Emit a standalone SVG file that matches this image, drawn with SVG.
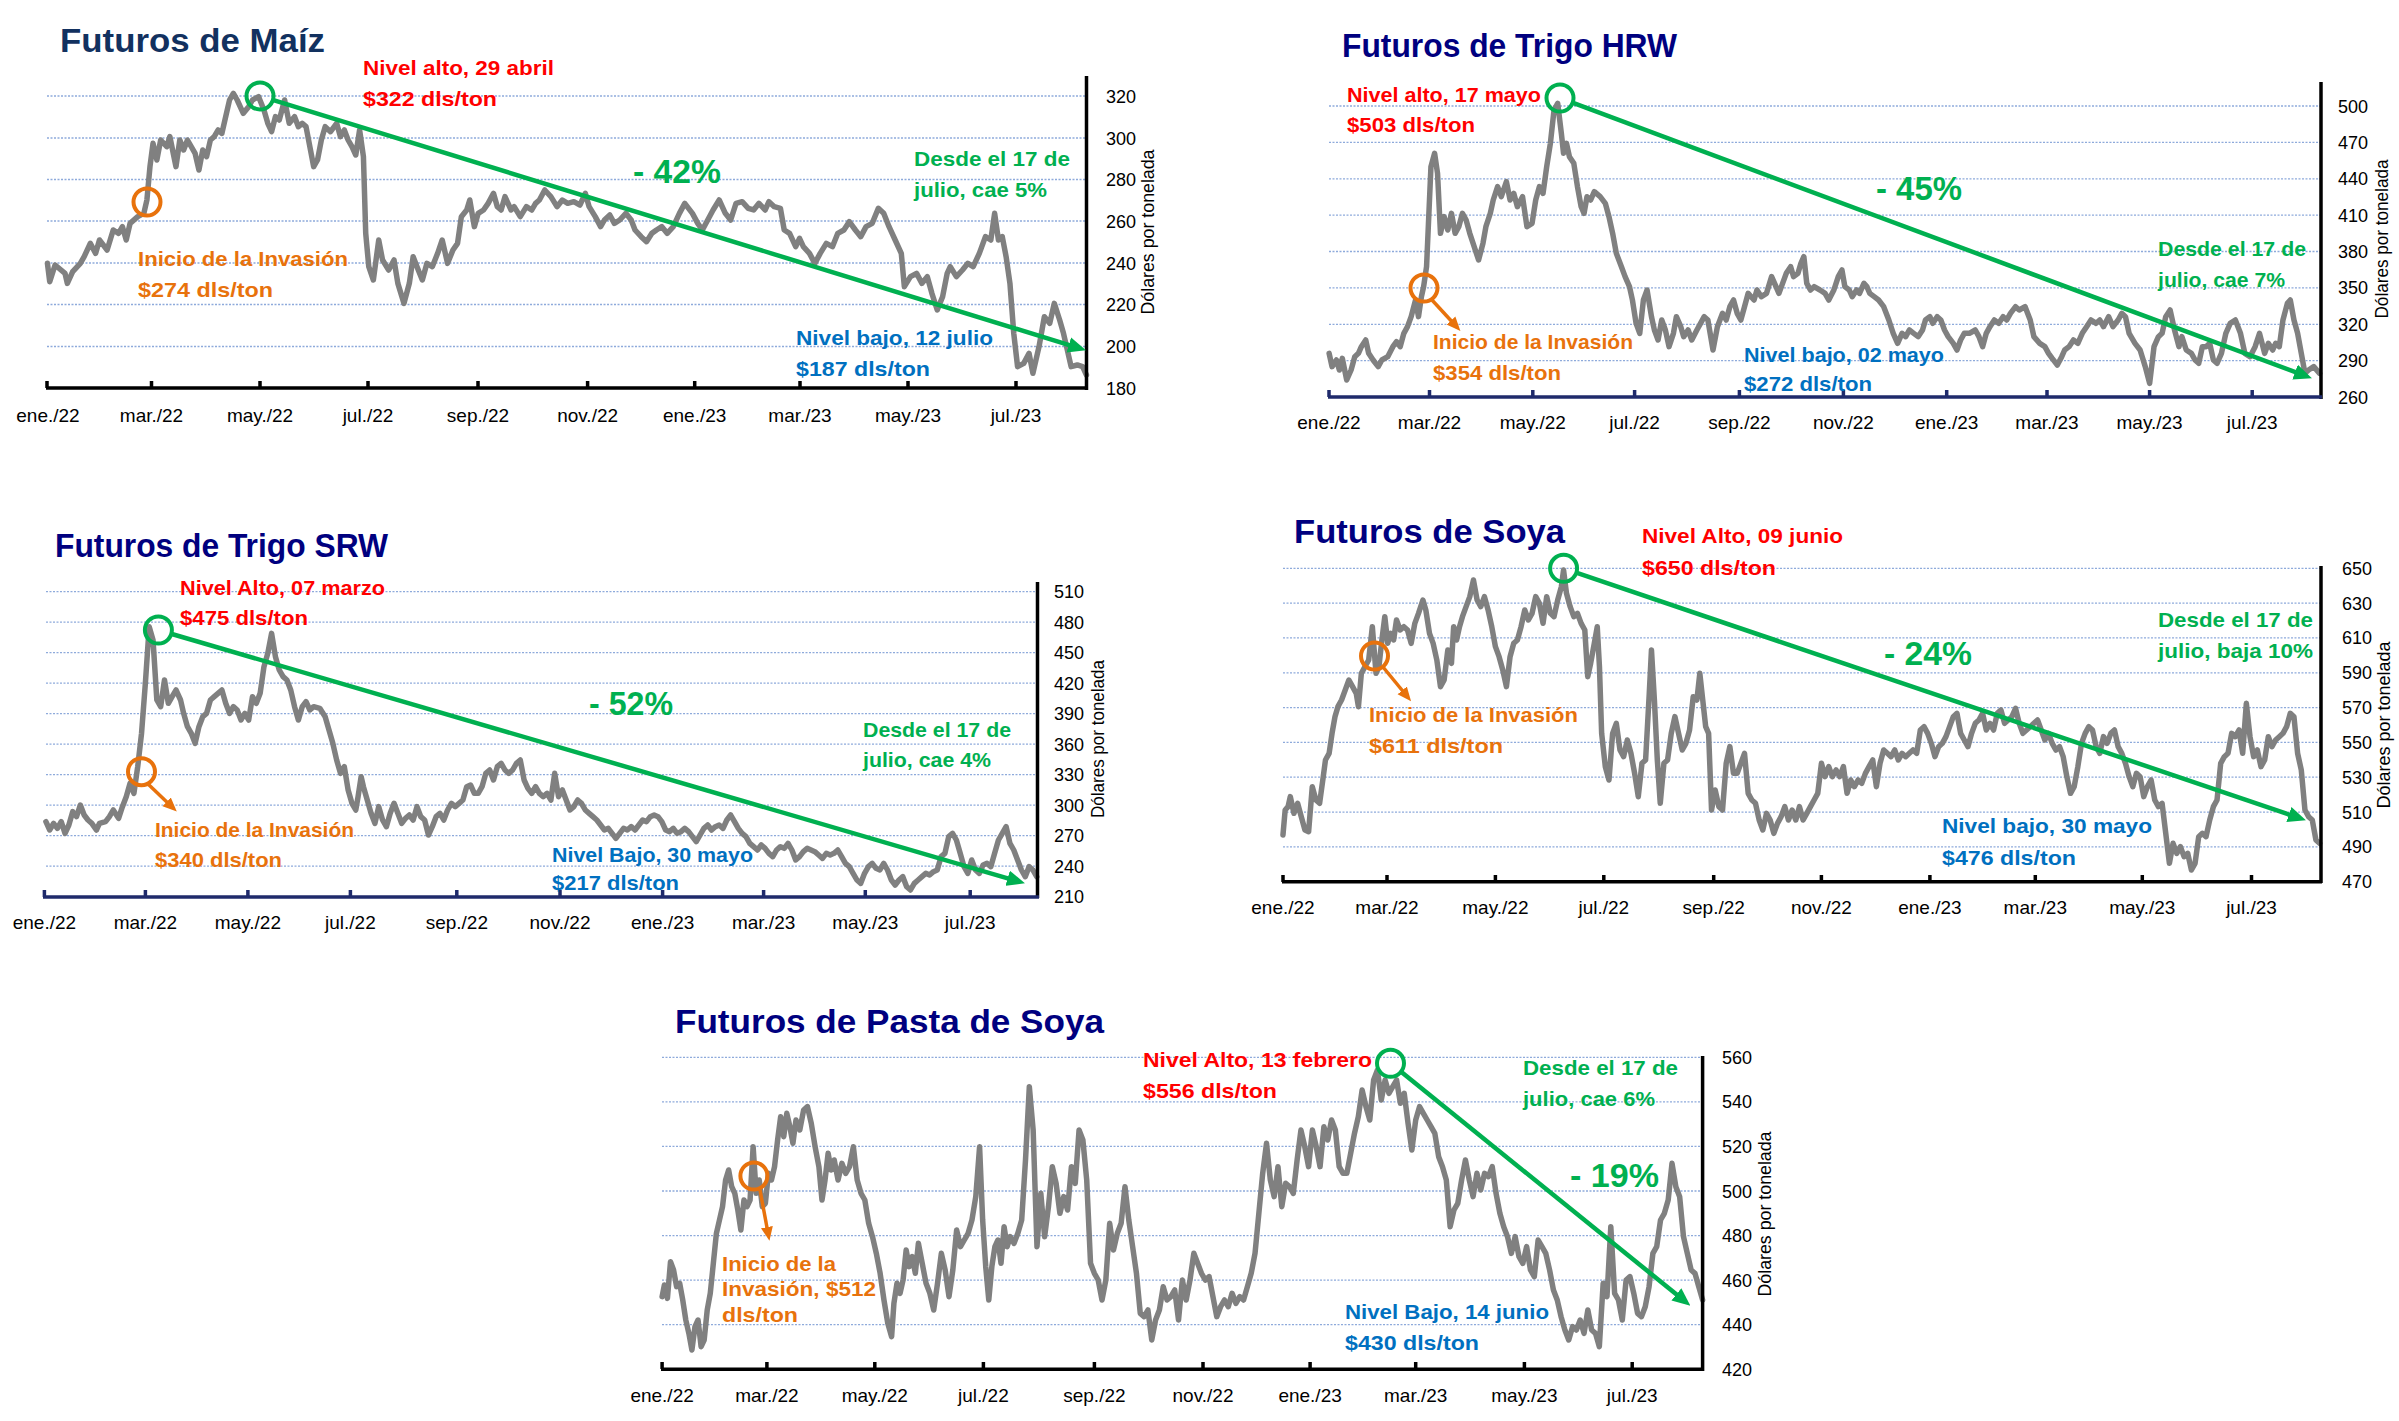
<svg xmlns="http://www.w3.org/2000/svg" width="2399" height="1421" viewBox="0 0 2399 1421">
<style>
text{font-family:"Liberation Sans",Arial,sans-serif}
.ttl{font-weight:bold;font-size:33px}
.t1{fill:#12315f}
.t2{fill:#00007f}
.ann{font-weight:bold;font-size:21px}
.red{fill:#ff0000}
.blu{fill:#0070c0}
.org{fill:#e8720c}
.grn{fill:#00b050}
.pct{font-weight:bold;font-size:33px;fill:#00b050}
.mo{font-size:19px;fill:#000;text-anchor:middle}
.yl{font-size:18px;fill:#000}
.yt{font-size:18px;fill:#000;text-anchor:middle}
.grid{stroke:#8eaadb;stroke-width:1.3;stroke-dasharray:2 1.5;fill:none}
.ser{fill:none;stroke:#808080;stroke-width:5.5;stroke-linejoin:round;stroke-linecap:round;vector-effect:non-scaling-stroke}
.ax{stroke:#000;stroke-width:3.5;fill:none}
.axn{stroke:#1f2a6b;stroke-width:3.5;fill:none}
.cg{fill:none;stroke:#00b050;stroke-width:4}
.co{fill:none;stroke:#e8720c;stroke-width:4}
.ag{stroke:#00b050;stroke-width:4.5;fill:none;marker-end:url(#hg)}
.ao{stroke:#e8720c;stroke-width:3.5;fill:none;marker-end:url(#ho)}
</style>
<defs>
<marker id="hg" markerUnits="userSpaceOnUse" markerWidth="18" markerHeight="16" refX="8" refY="7" orient="auto" viewBox="0 0 16 14"><path d="M0,0 L16,7 L0,14 z" fill="#00b050"/></marker>
<marker id="ho" markerUnits="userSpaceOnUse" markerWidth="14" markerHeight="13" refX="6" refY="6" orient="auto" viewBox="0 0 14 12"><path d="M0,0 L14,6 L0,12 z" fill="#e8720c"/></marker>
</defs>
<rect width="2399" height="1421" fill="#fff"/>

<!-- Chart 1: Maiz -->
<g id="chart-maiz">
<text class="ttl t1" x="60" y="52" textLength="265" lengthAdjust="spacingAndGlyphs">Futuros de Maíz</text>
<g class="grid">
<line x1="47" y1="96" x2="1086" y2="96"/><line x1="47" y1="138" x2="1086" y2="138"/><line x1="47" y1="179.5" x2="1086" y2="179.5"/><line x1="47" y1="221" x2="1086" y2="221"/><line x1="47" y1="263" x2="1086" y2="263"/><line x1="47" y1="304.5" x2="1086" y2="304.5"/><line x1="47" y1="346.5" x2="1086" y2="346.5"/>
</g>
<polyline class="ser" transform="matrix(0.7651 0 0 0.33333 0 0)" points="62,790 65,845 72,795 85,820 88,850 95,815 105,790 110,770 118,730 125,760 130,720 140,750 148,690 155,700 160,680 165,720 170,670 180,650 188,640 192,600 196,500 200,430 205,480 210,420 218,440 222,410 230,500 235,420 240,450 245,420 255,460 260,510 265,450 270,470 275,420 280,410 285,390 290,400 295,350 300,300 305,280 310,300 318,340 325,320 330,300 338,290 345,330 350,370 355,395 360,350 365,360 372,300 378,370 385,350 390,380 395,370 400,380 405,440 410,500 415,480 420,420 425,380 432,395 440,370 445,410 450,390 455,420 460,440 465,465 470,390 475,470 478,700 482,800 488,840 495,720 500,780 508,810 515,780 520,850 528,910 535,850 540,770 545,800 552,840 558,790 565,800 572,760 578,720 585,790 592,750 598,730 603,650 610,630 614,600 620,680 625,640 632,630 638,610 645,580 650,620 655,630 660,590 668,630 672,620 680,650 688,620 695,630 700,610 705,600 712,570 720,590 728,620 735,600 742,610 750,605 758,615 765,580 770,620 778,650 785,680 790,660 797,645 803,670 810,660 818,640 825,660 830,690 838,710 845,725 852,700 858,690 865,680 872,700 880,680 888,640 895,610 905,640 912,670 918,690 925,660 932,630 940,600 948,640 955,660 962,610 970,605 978,625 985,630 992,610 1000,630 1005,605 1012,620 1020,625 1025,690 1032,700 1040,740 1045,715 1050,740 1058,760 1065,790 1072,760 1080,730 1088,740 1095,700 1103,690 1110,665 1118,690 1125,710 1132,680 1140,670 1148,625 1155,640 1162,680 1170,720 1178,760 1182,860 1190,830 1198,820 1205,850 1212,830 1218,880 1225,930 1232,890 1238,820 1242,800 1250,830 1258,810 1265,790 1272,800 1280,760 1288,710 1295,720 1300,640 1305,720 1310,710 1315,770 1320,850 1325,1000 1330,1100 1338,1090 1345,1060 1350,1120 1358,1040 1365,950 1372,970 1378,910 1385,960 1390,1000 1395,1050 1400,1100 1408,1095 1415,1100 1420,1125"/>
<line class="ax" x1="1086.5" y1="76" x2="1086.5" y2="390"/>
<line class="ax" x1="46" y1="388" x2="1088" y2="388"/>
<path class="ax" d="M47,381V388M151.5,381V388M260,381V388M368,381V388M478,381V388M587.6,381V388M694.7,381V388M800,381V388M908,381V388M1016,381V388"/>
<g>
<text class="yl" x="1106" y="102.5">320</text><text class="yl" x="1106" y="144.5">300</text><text class="yl" x="1106" y="186">280</text><text class="yl" x="1106" y="227.5">260</text><text class="yl" x="1106" y="269.5">240</text><text class="yl" x="1106" y="311">220</text><text class="yl" x="1106" y="353">200</text><text class="yl" x="1106" y="394.5">180</text>
</g>
<g>
<text class="mo" x="48" y="422">ene./22</text><text class="mo" x="151.5" y="422">mar./22</text><text class="mo" x="260" y="422">may./22</text><text class="mo" x="368" y="422">jul./22</text><text class="mo" x="478" y="422">sep./22</text><text class="mo" x="587.6" y="422">nov./22</text><text class="mo" x="694.7" y="422">ene./23</text><text class="mo" x="800" y="422">mar./23</text><text class="mo" x="908" y="422">may./23</text><text class="mo" x="1016" y="422">jul./23</text>
</g>
<text class="yt" transform="translate(1154,232) rotate(-90)" textLength="165" lengthAdjust="spacingAndGlyphs">Dólares por tonelada</text>
<text class="ann red" x="363" y="75" textLength="191" lengthAdjust="spacingAndGlyphs">Nivel alto, 29 abril</text>
<text class="ann red" x="363" y="106" textLength="134" lengthAdjust="spacingAndGlyphs">$322 dls/ton</text>
<circle class="cg" cx="260" cy="96" r="13.5"/>
<text class="pct" x="633" y="183" textLength="88" lengthAdjust="spacingAndGlyphs">- 42%</text>
<text class="ann grn" x="914" y="166" textLength="156" lengthAdjust="spacingAndGlyphs">Desde el 17 de</text>
<text class="ann grn" x="914" y="197" textLength="133" lengthAdjust="spacingAndGlyphs">julio, cae 5%</text>
<circle class="co" cx="147" cy="202" r="13.5"/>
<text class="ann org" x="138" y="266" textLength="210" lengthAdjust="spacingAndGlyphs">Inicio de la Invasión</text>
<text class="ann org" x="138" y="297" textLength="135" lengthAdjust="spacingAndGlyphs">$274 dls/ton</text>
<text class="ann blu" x="796" y="345" textLength="197" lengthAdjust="spacingAndGlyphs">Nivel bajo, 12 julio</text>
<text class="ann blu" x="796" y="376" textLength="134" lengthAdjust="spacingAndGlyphs">$187 dls/ton</text>
</g>

<!-- Chart 2: Trigo HRW -->
<g id="chart-trigo-hrw">
<text class="ttl t2" x="1342" y="57" textLength="335" lengthAdjust="spacingAndGlyphs">Futuros de Trigo HRW</text>
<g class="grid">
<line x1="1329" y1="106" x2="2321" y2="106"/><line x1="1329" y1="142.4" x2="2321" y2="142.4"/><line x1="1329" y1="178.8" x2="2321" y2="178.8"/><line x1="1329" y1="215.1" x2="2321" y2="215.1"/><line x1="1329" y1="251.5" x2="2321" y2="251.5"/><line x1="1329" y1="287.9" x2="2321" y2="287.9"/><line x1="1329" y1="324.3" x2="2321" y2="324.3"/><line x1="1329" y1="360.6" x2="2321" y2="360.6"/>
</g>
<polyline class="ser" transform="matrix(0.7326 0 0 0.33333 1250 0)" points="108,1060 112,1100 118,1080 122,1110 126,1075 132,1140 138,1110 143,1070 148,1060 152,1040 158,1020 162,1060 168,1080 175,1100 180,1080 188,1070 195,1040 200,1025 205,1040 210,1000 215,980 220,950 226,900 230,950 234,890 237,860 241,800 244,650 247,500 252,460 256,520 260,700 265,650 270,690 275,640 280,700 285,680 290,640 295,660 300,700 306,740 312,780 318,730 322,680 328,640 332,600 338,560 343,590 350,545 355,600 360,580 365,620 372,590 378,680 385,670 390,600 395,560 400,580 405,500 410,430 415,330 420,310 425,400 428,460 432,430 436,470 442,490 447,560 452,620 456,640 460,590 465,600 470,575 478,590 485,610 490,650 495,700 500,760 507,800 512,830 518,860 522,900 527,970 532,1000 537,900 542,870 548,950 552,990 557,1020 562,960 567,990 572,1040 578,1000 582,950 588,980 592,1010 598,990 603,1020 610,990 615,970 620,950 625,960 632,1050 638,980 645,940 650,960 655,920 660,900 665,940 670,960 675,920 680,880 688,900 692,870 698,890 705,880 712,830 718,860 722,880 727,850 732,820 738,800 742,830 748,820 752,790 756,770 760,850 765,870 770,860 778,870 785,880 790,900 797,870 803,830 808,810 812,860 818,870 822,890 828,870 832,880 838,850 842,860 846,880 852,890 858,900 865,920 872,960 878,1000 884,1030 890,1000 895,1010 900,990 906,1000 912,1010 918,990 922,960 928,950 932,970 938,950 943,960 948,990 953,1010 960,1030 965,1050 970,1020 975,1000 982,1000 990,990 995,1010 1000,1040 1005,1000 1010,980 1016,960 1022,970 1028,950 1033,960 1038,940 1045,920 1050,930 1058,920 1065,960 1070,1010 1078,1030 1085,1040 1090,1060 1095,1075 1102,1095 1108,1070 1112,1050 1118,1040 1124,1020 1130,1030 1136,1000 1142,980 1148,960 1155,970 1160,960 1165,980 1172,950 1178,980 1185,960 1190,940 1195,950 1200,1000 1208,1030 1215,1050 1222,1100 1228,1150 1234,1040 1240,1010 1245,1000 1250,950 1256,930 1262,990 1268,1040 1272,1010 1278,1050 1285,1060 1290,1080 1295,1090 1300,1040 1305,1040 1310,1030 1315,1080 1320,1090 1326,1060 1332,1000 1338,970 1345,960 1352,1000 1358,1060 1365,1070 1372,1040 1378,1000 1385,1060 1390,1030 1396,1050 1400,1030 1405,1040 1410,960 1416,910 1420,900 1425,960 1430,1000 1435,1060 1440,1120 1445,1110 1452,1100 1460,1120"/>
<line class="ax" x1="2321" y1="82" x2="2321" y2="399"/>
<line class="axn" x1="1328" y1="397" x2="2322" y2="397"/>
<path class="axn" d="M1329,390V397M1429.5,390V397M1532.8,390V397M1634.6,390V397M1739.4,390V397M1843.4,390V397M1946.7,390V397M2047,390V397M2149.6,390V397M2252.2,390V397"/>
<g>
<text class="yl" x="2338" y="112.5">500</text><text class="yl" x="2338" y="149">470</text><text class="yl" x="2338" y="185.3">440</text><text class="yl" x="2338" y="221.6">410</text><text class="yl" x="2338" y="258">380</text><text class="yl" x="2338" y="294.4">350</text><text class="yl" x="2338" y="330.8">320</text><text class="yl" x="2338" y="367.1">290</text><text class="yl" x="2338" y="403.5">260</text>
</g>
<g>
<text class="mo" x="1329" y="429">ene./22</text><text class="mo" x="1429.5" y="429">mar./22</text><text class="mo" x="1532.8" y="429">may./22</text><text class="mo" x="1634.6" y="429">jul./22</text><text class="mo" x="1739.4" y="429">sep./22</text><text class="mo" x="1843.4" y="429">nov./22</text><text class="mo" x="1946.7" y="429">ene./23</text><text class="mo" x="2047" y="429">mar./23</text><text class="mo" x="2149.6" y="429">may./23</text><text class="mo" x="2252.2" y="429">jul./23</text>
</g>
<text class="yt" transform="translate(2388,239) rotate(-90)" textLength="159" lengthAdjust="spacingAndGlyphs">Dólares por tonelada</text>
<text class="ann red" x="1347" y="102" textLength="194" lengthAdjust="spacingAndGlyphs">Nivel alto, 17 mayo</text>
<text class="ann red" x="1347" y="132" textLength="128" lengthAdjust="spacingAndGlyphs">$503 dls/ton</text>
<circle class="cg" cx="1560" cy="98" r="13.5"/>
<text class="pct" x="1876" y="200" textLength="86" lengthAdjust="spacingAndGlyphs">- 45%</text>
<text class="ann grn" x="2158" y="256" textLength="148" lengthAdjust="spacingAndGlyphs">Desde el 17 de</text>
<text class="ann grn" x="2158" y="287" textLength="127" lengthAdjust="spacingAndGlyphs">julio, cae 7%</text>
<circle class="co" cx="1424" cy="288" r="13.5"/>
<text class="ann org" x="1433" y="349" textLength="200" lengthAdjust="spacingAndGlyphs">Inicio de la Invasión</text>
<text class="ann org" x="1433" y="380" textLength="128" lengthAdjust="spacingAndGlyphs">$354 dls/ton</text>
<text class="ann blu" x="1744" y="362" textLength="200" lengthAdjust="spacingAndGlyphs">Nivel bajo, 02 mayo</text>
<text class="ann blu" x="1744" y="391" textLength="128" lengthAdjust="spacingAndGlyphs">$272 dls/ton</text>
</g>

<!-- Chart 3: Trigo SRW -->
<g id="chart-trigo-srw">
<text class="ttl t2" x="55" y="557" textLength="333" lengthAdjust="spacingAndGlyphs">Futuros de Trigo SRW</text>
<g class="grid">
<line x1="46" y1="591.7" x2="1037" y2="591.7"/><line x1="46" y1="622.2" x2="1037" y2="622.2"/><line x1="46" y1="652.7" x2="1037" y2="652.7"/><line x1="46" y1="683.2" x2="1037" y2="683.2"/><line x1="46" y1="713.7" x2="1037" y2="713.7"/><line x1="46" y1="744.2" x2="1037" y2="744.2"/><line x1="46" y1="774.7" x2="1037" y2="774.7"/><line x1="46" y1="805.2" x2="1037" y2="805.2"/><line x1="46" y1="835.7" x2="1037" y2="835.7"/><line x1="46" y1="866.2" x2="1037" y2="866.2"/>
</g>
<polyline class="ser" transform="matrix(0.7651 0 0 0.33333 0 500)" points="60,965 65,990 70,970 75,985 80,965 85,1000 90,975 95,935 100,950 105,915 110,945 115,960 120,970 126,990 130,970 138,965 143,950 148,930 155,955 160,920 165,890 170,850 175,880 180,800 185,700 190,550 195,380 200,420 205,600 210,620 215,540 220,610 225,590 230,570 236,600 240,640 245,680 250,700 255,730 260,680 265,650 270,640 275,600 280,590 285,580 290,570 295,610 300,640 305,620 310,630 315,660 320,640 325,660 330,590 335,610 340,580 345,500 350,460 355,400 360,470 365,510 370,530 375,540 380,570 385,620 390,660 395,620 400,605 405,630 410,620 418,625 425,650 430,690 435,730 440,780 445,820 450,800 455,870 460,910 465,930 468,890 472,830 475,860 480,900 485,940 490,970 495,920 500,960 505,980 510,940 515,910 520,940 525,970 530,955 535,945 540,960 545,920 550,950 555,960 560,1005 565,980 570,950 575,940 580,960 585,930 590,910 595,920 600,910 605,900 610,860 615,855 620,880 625,880 630,860 635,820 640,810 645,840 650,800 655,790 660,810 665,820 670,810 675,790 680,780 685,840 690,865 695,880 700,860 705,880 710,890 715,880 720,900 725,820 730,890 735,870 740,900 745,930 750,920 755,900 760,910 765,930 770,940 775,950 780,960 785,975 790,990 795,985 800,1000 805,1015 810,1000 815,985 820,990 825,980 830,990 835,975 840,960 845,965 850,950 855,945 860,950 865,965 870,990 875,995 880,985 885,1000 890,995 895,985 900,995 905,1010 910,1025 915,1005 920,985 925,975 930,990 935,980 940,975 945,985 950,960 955,945 960,965 965,985 970,1000 975,1010 980,1030 985,1040 990,1050 995,1035 1000,1045 1005,1060 1010,1070 1015,1050 1020,1040 1025,1045 1030,1030 1035,1050 1040,1080 1045,1070 1050,1055 1055,1045 1060,1050 1065,1055 1070,1065 1075,1075 1080,1060 1085,1065 1090,1060 1095,1050 1100,1070 1105,1090 1110,1100 1115,1120 1120,1140 1125,1150 1130,1120 1135,1100 1140,1090 1145,1105 1150,1110 1155,1090 1160,1110 1165,1140 1170,1155 1175,1140 1180,1130 1185,1160 1190,1170 1195,1150 1200,1140 1205,1130 1210,1120 1215,1125 1220,1115 1225,1110 1230,1070 1235,1060 1240,1010 1245,1000 1250,1020 1255,1060 1260,1100 1265,1120 1270,1080 1275,1110 1280,1120 1285,1095 1290,1090 1295,1100 1300,1060 1305,1020 1310,1000 1315,980 1320,1030 1325,1050 1330,1080 1335,1110 1340,1130 1345,1100 1350,1110 1355,1130"/>
<line class="ax" x1="1037.5" y1="582" x2="1037.5" y2="898"/>
<line class="axn" x1="43" y1="897" x2="1039" y2="897"/>
<path class="axn" d="M44.4,890V897M145.4,890V897M247.9,890V897M350.4,890V897M456.8,890V897M560,890V897M662.6,890V897M763.6,890V897M865.3,890V897M970.2,890V897"/>
<g>
<text class="yl" x="1054" y="598.2">510</text><text class="yl" x="1054" y="628.7">480</text><text class="yl" x="1054" y="659.2">450</text><text class="yl" x="1054" y="689.7">420</text><text class="yl" x="1054" y="720.2">390</text><text class="yl" x="1054" y="750.7">360</text><text class="yl" x="1054" y="781.2">330</text><text class="yl" x="1054" y="811.7">300</text><text class="yl" x="1054" y="842.2">270</text><text class="yl" x="1054" y="872.7">240</text><text class="yl" x="1054" y="903.2">210</text>
</g>
<g>
<text class="mo" x="44.4" y="929">ene./22</text><text class="mo" x="145.4" y="929">mar./22</text><text class="mo" x="247.9" y="929">may./22</text><text class="mo" x="350.4" y="929">jul./22</text><text class="mo" x="456.8" y="929">sep./22</text><text class="mo" x="560" y="929">nov./22</text><text class="mo" x="662.6" y="929">ene./23</text><text class="mo" x="763.6" y="929">mar./23</text><text class="mo" x="865.3" y="929">may./23</text><text class="mo" x="970.2" y="929">jul./23</text>
</g>
<text class="yt" transform="translate(1104,739) rotate(-90)" textLength="158" lengthAdjust="spacingAndGlyphs">Dólares por tonelada</text>
<text class="ann red" x="180" y="595" textLength="205" lengthAdjust="spacingAndGlyphs">Nivel Alto, 07 marzo</text>
<text class="ann red" x="180" y="625" textLength="128" lengthAdjust="spacingAndGlyphs">$475 dls/ton</text>
<circle class="cg" cx="158.4" cy="630" r="13.5"/>
<text class="pct" x="589" y="715" textLength="84" lengthAdjust="spacingAndGlyphs">- 52%</text>
<text class="ann grn" x="863" y="737" textLength="148" lengthAdjust="spacingAndGlyphs">Desde el 17 de</text>
<text class="ann grn" x="863" y="767" textLength="128" lengthAdjust="spacingAndGlyphs">julio, cae 4%</text>
<circle class="co" cx="141.5" cy="771.7" r="13.5"/>
<text class="ann org" x="155" y="837" textLength="199" lengthAdjust="spacingAndGlyphs">Inicio de la Invasión</text>
<text class="ann org" x="155" y="867" textLength="127" lengthAdjust="spacingAndGlyphs">$340 dls/ton</text>
<text class="ann blu" x="552" y="862" textLength="201" lengthAdjust="spacingAndGlyphs">Nivel Bajo, 30 mayo</text>
<text class="ann blu" x="552" y="890" textLength="127" lengthAdjust="spacingAndGlyphs">$217 dls/ton</text>
</g>

<!-- Chart 4: Soya -->
<g id="chart-soya">
<text class="ttl t2" x="1294" y="543" textLength="271" lengthAdjust="spacingAndGlyphs">Futuros de Soya</text>
<g class="grid">
<line x1="1283" y1="568.3" x2="2321" y2="568.3"/><line x1="1283" y1="603.1" x2="2321" y2="603.1"/><line x1="1283" y1="637.9" x2="2321" y2="637.9"/><line x1="1283" y1="672.8" x2="2321" y2="672.8"/><line x1="1283" y1="707.6" x2="2321" y2="707.6"/><line x1="1283" y1="742.4" x2="2321" y2="742.4"/><line x1="1283" y1="777.2" x2="2321" y2="777.2"/><line x1="1283" y1="812.1" x2="2321" y2="812.1"/><line x1="1283" y1="846.9" x2="2321" y2="846.9"/>
</g>
<polyline class="ser" transform="matrix(0.7326 0 0 0.33333 1250 500)" points="45,1005 48,930 52,920 55,890 60,940 65,910 70,950 75,990 80,995 85,860 90,900 95,910 100,830 103,780 108,760 112,700 116,650 120,620 125,600 130,570 135,540 140,560 145,580 148,620 152,520 157,500 162,480 167,380 172,520 176,500 180,420 184,350 188,430 192,400 196,420 200,360 205,390 210,380 215,390 220,430 225,370 230,340 236,300 240,330 245,400 250,430 255,480 260,560 265,540 270,450 275,490 278,380 282,420 286,380 290,350 295,320 300,290 305,240 310,300 315,320 320,290 325,330 330,380 335,440 340,470 345,510 350,560 355,470 360,430 365,420 370,380 375,330 380,360 385,340 390,290 395,310 400,370 405,290 410,340 415,350 420,300 425,260 428,210 432,280 437,320 442,350 447,340 452,370 457,390 461,530 465,490 470,430 474,380 477,500 480,700 485,800 490,840 495,700 500,670 505,750 510,770 515,720 520,760 525,820 530,890 535,790 540,780 545,580 548,450 552,600 556,780 560,910 565,790 570,780 575,700 580,650 585,700 590,750 595,730 600,690 605,590 610,600 614,520 618,600 622,680 626,700 630,930 635,870 640,920 645,930 650,790 655,740 660,820 665,820 670,790 675,760 680,880 685,900 690,910 695,960 700,990 705,940 710,960 715,1000 720,970 725,950 730,920 735,960 740,930 745,960 750,920 755,960 760,940 765,920 770,900 775,880 780,790 785,830 790,800 795,830 800,810 805,830 810,800 815,880 820,840 825,860 830,840 835,850 840,820 845,800 850,780 855,860 860,790 865,750 870,760 875,770 880,750 885,780 890,760 895,770 900,760 905,750 910,760 915,690 920,680 925,700 930,730 935,770 940,740 945,730 950,710 955,680 960,650 965,640 970,700 975,720 980,740 985,700 990,670 995,660 1000,640 1005,690 1010,670 1015,690 1020,640 1025,630 1030,670 1035,660 1040,650 1045,625 1050,670 1055,700 1060,690 1065,680 1070,670 1075,660 1080,690 1085,720 1090,700 1095,730 1100,750 1105,740 1110,770 1115,830 1120,880 1125,860 1130,800 1135,730 1140,700 1145,680 1150,690 1155,740 1160,760 1165,710 1170,730 1175,700 1180,690 1185,740 1190,760 1195,790 1200,830 1205,860 1210,820 1215,830 1220,890 1225,860 1230,840 1235,900 1240,920 1245,910 1250,1000 1255,1090 1260,1030 1265,1060 1270,1040 1275,1070 1280,1060 1285,1110 1290,1090 1295,1010 1300,1000 1305,1010 1310,960 1315,920 1320,900 1325,790 1330,770 1335,760 1340,700 1345,710 1350,690 1355,760 1360,610 1365,710 1370,770 1375,750 1380,800 1385,780 1390,710 1395,740 1400,720 1405,710 1410,700 1415,680 1420,640 1425,650 1430,760 1435,810 1440,930 1445,950 1450,960 1455,1020 1460,1030"/>
<line class="ax" x1="2321" y1="566" x2="2321" y2="883"/>
<line class="ax" x1="1282" y1="881.7" x2="2322" y2="881.7"/>
<path class="ax" d="M1283,875V882M1387,875V882M1495.4,875V882M1603.8,875V882M1713.7,875V882M1821.4,875V882M1929.9,875V882M2035.3,875V882M2142.3,875V882M2251.5,875V882"/>
<g>
<text class="yl" x="2342" y="574.8">650</text><text class="yl" x="2342" y="609.6">630</text><text class="yl" x="2342" y="644.4">610</text><text class="yl" x="2342" y="679.3">590</text><text class="yl" x="2342" y="714.1">570</text><text class="yl" x="2342" y="748.9">550</text><text class="yl" x="2342" y="783.7">530</text><text class="yl" x="2342" y="818.6">510</text><text class="yl" x="2342" y="853.4">490</text><text class="yl" x="2342" y="888.2">470</text>
</g>
<g>
<text class="mo" x="1283" y="914">ene./22</text><text class="mo" x="1387" y="914">mar./22</text><text class="mo" x="1495.4" y="914">may./22</text><text class="mo" x="1603.8" y="914">jul./22</text><text class="mo" x="1713.7" y="914">sep./22</text><text class="mo" x="1821.4" y="914">nov./22</text><text class="mo" x="1929.9" y="914">ene./23</text><text class="mo" x="2035.3" y="914">mar./23</text><text class="mo" x="2142.3" y="914">may./23</text><text class="mo" x="2251.5" y="914">jul./23</text>
</g>
<text class="yt" transform="translate(2390,725) rotate(-90)" textLength="167" lengthAdjust="spacingAndGlyphs">Dólares por tonelada</text>
<text class="ann red" x="1642" y="543" textLength="201" lengthAdjust="spacingAndGlyphs">Nivel Alto, 09 junio</text>
<text class="ann red" x="1642" y="575" textLength="134" lengthAdjust="spacingAndGlyphs">$650 dls/ton</text>
<circle class="cg" cx="1563.6" cy="568.3" r="13.5"/>
<text class="pct" x="1884" y="665" textLength="88" lengthAdjust="spacingAndGlyphs">- 24%</text>
<text class="ann grn" x="2158" y="627" textLength="155" lengthAdjust="spacingAndGlyphs">Desde el 17 de</text>
<text class="ann grn" x="2158" y="658" textLength="155" lengthAdjust="spacingAndGlyphs">julio, baja 10%</text>
<circle class="co" cx="1374.5" cy="656" r="13.5"/>
<text class="ann org" x="1369" y="722" textLength="209" lengthAdjust="spacingAndGlyphs">Inicio de la Invasión</text>
<text class="ann org" x="1369" y="753" textLength="134" lengthAdjust="spacingAndGlyphs">$611 dls/ton</text>
<text class="ann blu" x="1942" y="833" textLength="210" lengthAdjust="spacingAndGlyphs">Nivel bajo, 30 mayo</text>
<text class="ann blu" x="1942" y="865" textLength="134" lengthAdjust="spacingAndGlyphs">$476 dls/ton</text>
</g>

<!-- Chart 5: Pasta de Soya -->
<g id="chart-pasta-soya">
<text class="ttl t2" x="675" y="1033" textLength="429" lengthAdjust="spacingAndGlyphs">Futuros de Pasta de Soya</text>
<g class="grid">
<line x1="662" y1="1057.3" x2="1702" y2="1057.3"/><line x1="662" y1="1101.9" x2="1702" y2="1101.9"/><line x1="662" y1="1146.4" x2="1702" y2="1146.4"/><line x1="662" y1="1191" x2="1702" y2="1191"/><line x1="662" y1="1235.6" x2="1702" y2="1235.6"/><line x1="662" y1="1280.2" x2="1702" y2="1280.2"/><line x1="662" y1="1324.7" x2="1702" y2="1324.7"/>
</g>
<polyline class="ser" transform="matrix(0.7651 0 0 0.33333 620 980)" points="55,950 58,915 62,955 66,845 70,870 74,920 78,910 82,960 86,1020 90,1060 94,1110 98,1040 102,1020 106,1100 110,1080 114,990 118,940 122,850 126,760 130,720 134,680 138,600 142,570 146,620 150,640 154,690 158,750 162,660 166,680 170,660 174,500 178,640 182,600 186,680 190,670 194,580 198,600 202,560 206,480 210,410 214,470 218,400 222,440 226,490 230,420 235,450 240,390 245,380 250,430 255,500 260,560 264,660 268,600 272,520 276,570 280,540 285,600 290,550 295,580 300,560 305,500 310,600 315,640 320,660 325,730 330,770 335,820 340,880 345,960 350,1030 355,1070 358,970 362,910 366,940 370,900 374,810 378,860 382,830 386,880 390,790 395,850 400,910 405,940 410,990 415,910 420,820 425,870 430,950 435,870 440,750 445,800 450,780 455,760 460,720 465,650 470,500 474,720 478,860 482,960 486,860 490,800 494,780 498,850 502,740 506,800 510,770 515,790 520,760 525,720 530,540 535,320 540,450 545,800 550,640 555,770 560,680 565,560 570,610 575,700 580,650 585,690 590,560 595,610 600,450 605,480 610,600 615,850 620,880 625,900 630,960 635,900 640,730 645,810 650,760 655,730 660,620 665,720 670,800 675,880 680,1000 685,1010 690,990 695,1080 700,1020 705,990 710,920 715,960 720,950 725,930 730,1020 735,900 740,960 745,900 750,820 755,850 760,880 765,900 770,890 775,950 780,1010 785,980 790,960 795,980 800,940 805,970 810,950 815,960 820,920 825,880 830,820 835,700 840,580 845,490 850,600 855,650 860,560 865,680 870,610 875,620 880,640 885,540 890,450 895,500 900,560 905,450 910,500 915,560 920,440 925,480 930,420 935,450 940,560 945,580 950,580 955,520 960,460 965,410 970,330 975,380 980,420 985,300 990,270 995,360 1000,300 1005,340 1010,320 1015,300 1020,370 1025,340 1030,430 1035,510 1040,420 1045,380 1050,400 1055,420 1060,440 1065,460 1070,530 1075,560 1080,600 1085,740 1090,690 1095,670 1100,600 1105,540 1110,600 1115,650 1120,580 1125,630 1130,580 1135,590 1140,560 1145,640 1150,700 1155,740 1160,770 1165,820 1170,770 1175,830 1180,850 1185,800 1190,870 1195,890 1200,780 1205,800 1210,820 1215,870 1220,930 1225,960 1230,1010 1235,1050 1240,1080 1245,1040 1250,1050 1255,1020 1260,1060 1265,990 1270,1050 1275,1060 1280,1100 1285,910 1290,950 1295,740 1300,940 1305,960 1310,1020 1315,900 1320,890 1325,940 1330,1000 1335,1010 1340,980 1345,920 1350,820 1355,800 1360,720 1365,700 1370,660 1375,550 1380,620 1385,650 1390,770 1395,820 1400,870 1405,880 1410,920 1415,960"/>
<line class="ax" x1="1702.6" y1="1056" x2="1702.6" y2="1371"/>
<line class="ax" x1="661" y1="1369.3" x2="1704" y2="1369.3"/>
<path class="ax" d="M662.1,1362V1369M766.9,1362V1369M874.8,1362V1369M983.4,1362V1369M1094.4,1362V1369M1203,1362V1369M1310.1,1362V1369M1415.7,1362V1369M1524.4,1362V1369M1632.2,1362V1369"/>
<g>
<text class="yl" x="1722" y="1063.8">560</text><text class="yl" x="1722" y="1108.4">540</text><text class="yl" x="1722" y="1152.9">520</text><text class="yl" x="1722" y="1197.5">500</text><text class="yl" x="1722" y="1242.1">480</text><text class="yl" x="1722" y="1286.7">460</text><text class="yl" x="1722" y="1331.2">440</text><text class="yl" x="1722" y="1375.8">420</text>
</g>
<g>
<text class="mo" x="662.1" y="1402">ene./22</text><text class="mo" x="766.9" y="1402">mar./22</text><text class="mo" x="874.8" y="1402">may./22</text><text class="mo" x="983.4" y="1402">jul./22</text><text class="mo" x="1094.4" y="1402">sep./22</text><text class="mo" x="1203" y="1402">nov./22</text><text class="mo" x="1310.1" y="1402">ene./23</text><text class="mo" x="1415.7" y="1402">mar./23</text><text class="mo" x="1524.4" y="1402">may./23</text><text class="mo" x="1632.2" y="1402">jul./23</text>
</g>
<text class="yt" transform="translate(1771,1214) rotate(-90)" textLength="165" lengthAdjust="spacingAndGlyphs">Dólares por tonelada</text>
<text class="ann red" x="1143" y="1067" textLength="229" lengthAdjust="spacingAndGlyphs">Nivel Alto, 13 febrero</text>
<text class="ann red" x="1143" y="1098" textLength="134" lengthAdjust="spacingAndGlyphs">$556 dls/ton</text>
<circle class="cg" cx="1390.5" cy="1063.3" r="13.5"/>
<text class="pct" x="1570" y="1187" textLength="89" lengthAdjust="spacingAndGlyphs">- 19%</text>
<text class="ann grn" x="1523" y="1075" textLength="155" lengthAdjust="spacingAndGlyphs">Desde el 17 de</text>
<text class="ann grn" x="1523" y="1106" textLength="132" lengthAdjust="spacingAndGlyphs">julio, cae 6%</text>
<circle class="co" cx="753.9" cy="1176" r="13.5"/>
<text class="ann org" x="722" y="1271" textLength="114" lengthAdjust="spacingAndGlyphs">Inicio de la</text>
<text class="ann org" x="722" y="1296" textLength="154" lengthAdjust="spacingAndGlyphs">Invasión, $512</text>
<text class="ann org" x="722" y="1322" textLength="76" lengthAdjust="spacingAndGlyphs">dls/ton</text>
<text class="ann blu" x="1345" y="1319" textLength="204" lengthAdjust="spacingAndGlyphs">Nivel Bajo, 14 junio</text>
<text class="ann blu" x="1345" y="1350" textLength="134" lengthAdjust="spacingAndGlyphs">$430 dls/ton</text>
</g>

<!-- Connectors -->
<g id="connectors">
<line class="ag" x1="273.4" y1="100.1" x2="1077.4" y2="347.6"/>
<line class="ag" x1="1573.1" y1="102.9" x2="2303.5" y2="375.2"/>
<line class="ag" x1="171.8" y1="634" x2="1016.3" y2="880.8"/>
<line class="ag" x1="1576.9" y1="572.8" x2="2297.4" y2="817.4"/>
<line class="ag" x1="1401.4" y1="1072.1" x2="1683.4" y2="1300"/>
<line class="ao" x1="1432" y1="300" x2="1455" y2="325"/>
<line class="ao" x1="148" y1="784" x2="171" y2="806"/>
<line class="ao" x1="1383" y1="667" x2="1406" y2="695"/>
<line class="ao" x1="760" y1="1190" x2="768" y2="1233"/>
</g>
</svg>
